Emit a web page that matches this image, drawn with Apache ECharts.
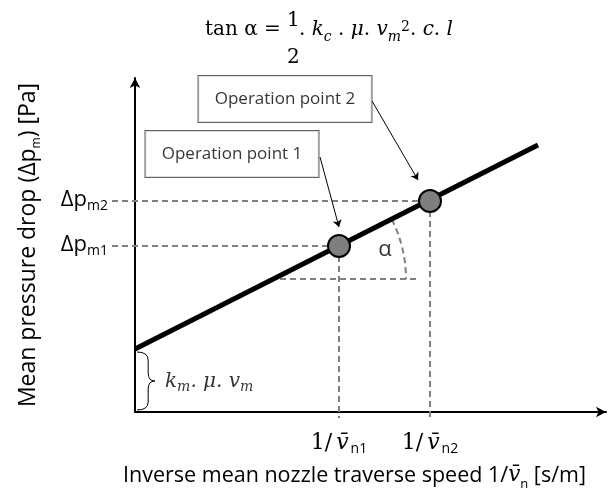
<!DOCTYPE html>
<html>
<head>
<meta charset="utf-8">
<script src="https://cdn.jsdelivr.net/npm/echarts@6/dist/echarts.min.js"></script>
<style>
    html, body { margin: 0; padding: 0; background: #fff; }
    #chart { width: 608px; height: 489px; }
</style>
</head>
<body>
<div id="chart"></div>
<script>
// schematic units (roughly 1 unit = 1 px in both directions)
var axisMaxX = 471;
var axisMaxY = 334;

// characteristic line
var lineX = [0, 403];
var lineY = [63, 267];

// operation points
var opX = [204, 295];
var opY = [166, 211];
var opNames = ['Operation point 1', 'Operation point 2'];

// callout boxes and their arrows
var boxX = [97, 150];
var boxY = [258, 313];
var arrowFromX = [185, 237];
var arrowFromY = [255, 311];
var arrowToX = [204, 283];
var arrowToY = [185, 232];

// tick labels at the operation points
var yTickSubs = ['m1', 'm2'];
var xTickSubs = ['n1', 'n2'];

// slope triangle and angle arc
var baseX = [145, 282];
var baseY = 133;
var arcCenter = [139, 133];
var arcR = 132;

// dashed guides reach a bit past the axes
var guideLeft = -23;
var guideBottom = -6;

var serif = '"DejaVu Serif", "Liberation Serif", serif';
var sans = '"Open Sans", "Noto Sans", sans-serif';

var chart = echarts.init(document.getElementById('chart'));

var guides = [];
for (var i = 0; i < opX.length; i++) {
    guides.push({ coords: [[guideLeft, opY[i]], [opX[i], opY[i]]] });
    guides.push({ coords: [[opX[i], opY[i]], [opX[i], guideBottom]] });
}
guides.push({ coords: [[baseX[0], baseY], [baseX[1], baseY]] });

var arrows = [];
var boxes = [];
for (var j = 0; j < opNames.length; j++) {
    arrows.push({ coords: [[arrowFromX[j], arrowFromY[j]], [arrowToX[j], arrowToY[j]]] });
    boxes.push({ value: [boxX[j], boxY[j]], name: opNames[j] });
}

var subRich = {
    a: { fontFamily: sans, fontSize: 22, color: '#000', verticalAlign: 'top', lineHeight: 24, padding: [0, 0, 6, 0] },
    s: { fontFamily: sans, fontSize: 14, color: '#000', verticalAlign: 'bottom', lineHeight: 14 },
    n: { fontFamily: serif, fontSize: 22, color: '#000', verticalAlign: 'top', lineHeight: 24, padding: [0, 4, 6, 0] },
    v: { fontFamily: serif, fontStyle: 'italic', fontSize: 22, color: '#000', verticalAlign: 'top', lineHeight: 24, padding: [0, 2, 6, 0] }
};

var formulaRich = {
    n: { fontFamily: serif, fontWeight: 'normal', fontSize: 20, color: '#000', verticalAlign: 'top', lineHeight: 24, padding: [0, 0, 6, 0] },
    i: { fontFamily: serif, fontWeight: 'normal', fontStyle: 'italic', fontSize: 20, color: '#000', verticalAlign: 'top', lineHeight: 24, padding: [0, 0, 6, 0] },
    s: { fontFamily: serif, fontWeight: 'normal', fontStyle: 'italic', fontSize: 14, color: '#000', verticalAlign: 'bottom', lineHeight: 14 },
    p: { fontFamily: serif, fontWeight: 'normal', fontSize: 14, color: '#000', verticalAlign: 'top', lineHeight: 14 }
};

var option = {
    animation: false,
    backgroundColor: '#fff',
    title: [
        { text: '{n|tan \u03b1 =}', left: 205, top: 20, padding: 0, textStyle: { fontWeight: 'normal', rich: formulaRich } },
        { text: '{n|1}', left: 287, top: 11, padding: 0, textStyle: { fontWeight: 'normal', rich: formulaRich } },
        { text: '{n|2}', left: 287, top: 48, padding: 0, textStyle: { fontWeight: 'normal', rich: formulaRich } },
        {
            text: '{n|. }{i|k}{s|c}{n| . }{i|\u03bc}{n|. }{i|v}{s|m}{p|2}{n|. }{i|c}{n|. }{i|l}',
            left: 299, top: 20, padding: 0, textStyle: { fontWeight: 'normal', rich: formulaRich }
        }
    ],
    grid: { left: 135, top: 78, width: axisMaxX, height: axisMaxY, containLabel: false, outerBoundsMode: 'none' },
    xAxis: {
        type: 'value',
        min: 0,
        max: axisMaxX,
        splitLine: { show: false },
        axisTick: { show: false },
        axisLine: { lineStyle: { color: '#000', width: 2 }, symbol: ['none', 'arrow'], symbolSize: [8, 10] },
        axisLabel: {
            customValues: opX,
            margin: 20,
            formatter: function (v) { return '{n|1/}{v|v\u0304}{s|' + xTickSubs[opX.indexOf(v)] + '}'; },
            rich: subRich
        },
        name: '{t|Inverse mean nozzle traverse speed 1/}{v|v\u0304}{s|n}{t| [s/m]}',
        nameLocation: 'middle',
        nameGap: 42,
        nameTextStyle: {
            padding: [0, 32, 0, 0],
            rich: {
                t: { fontFamily: sans, fontSize: 21.5, color: '#000', verticalAlign: 'top', lineHeight: 26, padding: [0, 0, 4, 0] },
                v: { fontFamily: serif, fontStyle: 'italic', fontSize: 21.5, color: '#000', verticalAlign: 'top', lineHeight: 26, padding: [0, 0, 4, 0] },
                s: { fontFamily: sans, fontSize: 13, color: '#000', verticalAlign: 'bottom', lineHeight: 13 }
            }
        }
    },
    yAxis: {
        type: 'value',
        min: 0,
        max: axisMaxY,
        splitLine: { show: false },
        axisTick: { show: false },
        axisLine: { lineStyle: { color: '#000', width: 2 }, symbol: ['none', 'arrow'], symbolSize: [8, 10] },
        axisLabel: {
            customValues: opY,
            margin: 27,
            formatter: function (v) { return '{a|\u0394p}{s|' + yTickSubs[opY.indexOf(v)] + '}'; },
            rich: subRich
        },
        name: '{t|Mean pressure drop (\u0394p}{s|m}{t|) [Pa]}',
        nameLocation: 'middle',
        nameRotate: 90,
        nameGap: 92,
        nameTextStyle: {
            rich: {
                t: { fontFamily: sans, fontSize: 23, color: '#000', verticalAlign: 'top', lineHeight: 26, padding: [0, 0, 4, 0] },
                s: { fontFamily: sans, fontSize: 12, color: '#000', verticalAlign: 'bottom', lineHeight: 13 }
            }
        }
    },
    series: [
        {
            name: 'guides',
            type: 'lines',
            coordinateSystem: 'cartesian2d',
            clip: false,
            silent: true,
            z: 1,
            lineStyle: { color: '#808080', width: 2, type: [6, 4], opacity: 1 },
            data: guides
        },
        {
            name: 'angle',
            type: 'custom',
            clip: false,
            silent: true,
            z: 1,
            data: [arcCenter],
            renderItem: function (params, api) {
                var c = api.coord([api.value(0), api.value(1)]);
                var p0 = api.coord([lineX[0], lineY[0]]);
                var p1 = api.coord([lineX[1], lineY[1]]);
                var ang = Math.atan2(p1[1] - p0[1], p1[0] - p0[0]);
                var r = api.size([arcR, 0])[0];
                return {
                    type: 'arc',
                    shape: { cx: c[0], cy: c[1], r: r, startAngle: ang, endAngle: 0, clockwise: true },
                    style: { stroke: '#808080', fill: 'none', lineWidth: 2, lineDash: [6, 4] }
                };
            }
        },
        {
            name: 'brace',
            type: 'custom',
            clip: false,
            silent: true,
            z: 2,
            data: [[lineX[0], lineY[0]]],
            renderItem: function (params, api) {
                var top = api.coord([api.value(0), api.value(1)]);
                var bot = api.coord([api.value(0), 0]);
                var x = top[0] + 2, yt = top[1] + 3, yb = bot[1] - 2;
                var ym = (yt + yb) / 2, w = 18, q = 8, xa = x + w * 0.62;
                var d = 'M' + x + ',' + yt +
                    ' Q' + xa + ',' + yt + ' ' + xa + ',' + (yt + q) +
                    ' L' + xa + ',' + (ym - q) +
                    ' Q' + xa + ',' + ym + ' ' + (x + w) + ',' + ym +
                    ' Q' + xa + ',' + ym + ' ' + xa + ',' + (ym + q) +
                    ' L' + xa + ',' + (yb - q) +
                    ' Q' + xa + ',' + yb + ' ' + x + ',' + yb;
                return {
                    type: 'path',
                    shape: { pathData: d },
                    style: { stroke: '#000', fill: 'none', lineWidth: 1 }
                };
            }
        },
        {
            name: 'characteristic',
            type: 'line',
            z: 3,
            symbol: 'none',
            silent: true,
            lineStyle: { color: '#000', width: 5 },
            data: [[lineX[0], lineY[0]], [lineX[1], lineY[1]]]
        },
        {
            name: 'operation points',
            type: 'scatter',
            z: 4,
            symbolSize: 22,
            itemStyle: { color: '#7f7f7f', borderColor: '#000', borderWidth: 2, opacity: 1 },
            data: opX.map(function (x, k) { return [x, opY[k]]; })
        },
        {
            name: 'callout arrows',
            type: 'lines',
            coordinateSystem: 'cartesian2d',
            clip: false,
            z: 5,
            symbol: ['none', 'arrow'],
            symbolSize: 7,
            lineStyle: { color: '#000', width: 1, opacity: 1 },
            data: arrows
        },
        {
            name: 'callouts',
            type: 'scatter',
            z: 6,
            clip: false,
            symbolSize: 0,
            itemStyle: { color: 'transparent' },
            label: {
                show: true,
                position: 'inside',
                formatter: '{b}',
                fontFamily: sans,
                fontSize: 17,
                color: '#000',
                backgroundColor: '#fff',
                borderColor: '#3a3a3a',
                borderWidth: 1,
                width: 173,
                height: 46,
                lineHeight: 46,
                align: 'center'
            },
            data: boxes
        },
        {
            name: 'notes',
            type: 'scatter',
            z: 6,
            clip: false,
            symbolSize: 0,
            itemStyle: { color: 'transparent' },
            data: [
                {
                    value: [250, 162],
                    label: { show: true, position: 'inside', formatter: '\u03b1', fontFamily: sans, fontSize: 22, color: '#000' }
                },
                {
                    value: [30, 29],
                    label: {
                        show: true, position: 'right', distance: 0,
                        formatter: '{i|k}{s|m}{i|. \u03bc. v}{s|m}',
                        rich: {
                            i: { fontFamily: serif, fontStyle: 'italic', fontSize: 20, color: '#000', verticalAlign: 'top', lineHeight: 22, padding: [0, 0, 5, 0] },
                            s: { fontFamily: serif, fontStyle: 'italic', fontSize: 14, color: '#000', verticalAlign: 'bottom', lineHeight: 14 }
                        }
                    }
                }
            ]
        }
    ]
};

chart.setOption(option);
</script>
</body>
</html>
